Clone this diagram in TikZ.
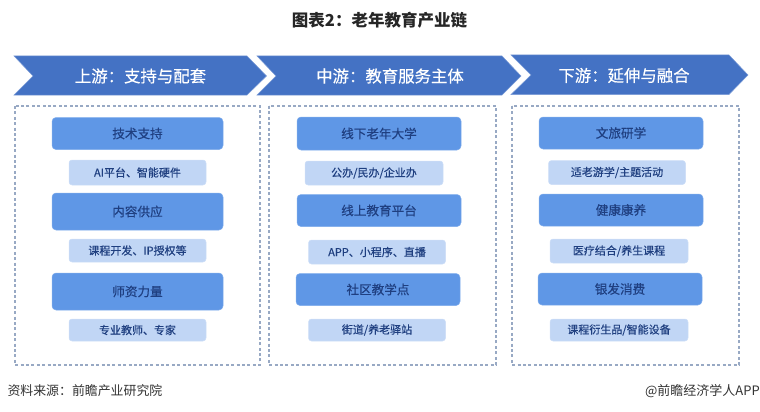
\documentclass[tikz,border=0pt]{standalone}
\usepackage{fontspec}
\setmainfont{Noto Sans CJK SC}
\newfontfamily\medfont[FakeBold=0.4]{Noto Sans CJK SC}
\definecolor{headblue}{HTML}{4472C4}
\definecolor{mainblue}{HTML}{5F97E6}
\definecolor{subblue}{HTML}{C1D6F5}
\definecolor{inkblue}{HTML}{1F3F80}
\definecolor{dashblue}{HTML}{98A9C4}
\tikzset{
  head/.style={fill=headblue, draw=headblue!70!white, line width=.5pt},
  headtext/.style={text=white, font=\medfont\fontsize{16.4}{18}\selectfont},
  panel/.style={draw=dashblue, line width=1.1pt, dash pattern=on 3pt off 2.4pt},
  mainbox/.style={fill=mainblue, draw=mainblue!80!white, line width=.5pt, rounded corners=4pt, inner sep=0pt, text=inkblue, font=\medfont\fontsize{12.6}{14}\selectfont},
  subbox/.style={fill=subblue, draw=subblue!80!white, line width=.5pt, rounded corners=3pt, inner sep=0pt, text=inkblue, font=\medfont\fontsize{11}{13}\selectfont}
}
\begin{document}
\begin{tikzpicture}[x=1pt, y=-1pt]
\useasboundingbox (0,0) rectangle (760,412);
\draw (379.5,20) node[text=black!85, font=\fontsize{16.5}{18}\selectfont\bfseries] (title) {图表2：老年教育产业链};
%
\fill[head] (14,56) -- (247,56) -- (266.5,76) -- (247,95) -- (14,95) -- (33,76) -- cycle;
\draw (140.5,76) node[headtext] (up) {上游：支持与配套};
\fill[head] (257,56) -- (502,56) -- (521,76) -- (502,95) -- (257,95) -- (276,76) -- cycle;
\draw (390,76) node[headtext] (mid) {中游：教育服务主体};
\fill[head] (511,55) -- (729,55) -- (748,75) -- (729,94.5) -- (511,94.5) -- (531,75) -- cycle;
\draw (624,75.5) node[headtext] (down) {下游：延伸与融合};
%
\draw[panel] (15,106) rectangle (260,365);
\draw[panel] (269,106) rectangle (496,365);
\draw[panel] (512,106) rectangle (739,365);
%
\draw (137.5,133.5) node[mainbox, minimum width=171pt, minimum height=32pt] (tech) {技术支持};
\draw (137.5,172.5) node[subbox, minimum width=137pt, minimum height=25pt] (ai) {AI平台、智能硬件};
\draw (137.5,211.5) node[mainbox, minimum width=171pt, minimum height=37pt] (content) {内容供应};
\draw (137.5,250.5) node[subbox, minimum width=137pt, minimum height=23pt] (ip) {课程开发、IP授权等};
\draw (137.5,291.5) node[mainbox, minimum width=171pt, minimum height=37pt] (teacher) {师资力量};
\draw (137.5,330) node[subbox, minimum width=137pt, minimum height=22pt] (expert) {专业教师、专家};
%
\draw (379,133.5) node[mainbox, minimum width=164pt, minimum height=33pt] (offline) {线下老年大学};
\draw (374,173) node[subbox, minimum width=138pt, minimum height=24pt] (public) {公办/民办/企业办};
\draw (379,210.5) node[mainbox, minimum width=164pt, minimum height=32pt] (online) {线上教育平台};
\draw (377,252) node[subbox, minimum width=137pt, minimum height=24pt] (app) {APP、小程序、直播};
\draw (378,289.5) node[mainbox, minimum width=164pt, minimum height=32pt] (community) {社区教学点};
\draw (377,330) node[subbox, minimum width=137pt, minimum height=22pt] (street) {街道/养老驿站};
%
\draw (621,133) node[mainbox, minimum width=164pt, minimum height=32pt] (travel) {文旅研学};
\draw (617,172.5) node[subbox, minimum width=137pt, minimum height=24pt] (trip) {适老游学/主题活动};
\draw (621,210) node[mainbox, minimum width=164pt, minimum height=32pt] (health) {健康康养};
\draw (619,251) node[subbox, minimum width=138pt, minimum height=24pt] (medical) {医疗结合/养生课程};
\draw (620,289) node[mainbox, minimum width=164pt, minimum height=32pt] (silver) {银发消费};
\draw (619,330) node[subbox, minimum width=138pt, minimum height=22pt] (goods) {课程衍生品/智能设备};
%
\draw (4,391) node[anchor=west, text=black!80, font=\fontsize{12.9}{15}\selectfont] (source) {资料来源：前瞻产业研究院};
\draw (760,391) node[anchor=east, inner sep=0pt, text=black!80, font=\fontsize{13}{15}\selectfont] (brand) {@前瞻经济学人APP};
\end{tikzpicture}
\end{document}
